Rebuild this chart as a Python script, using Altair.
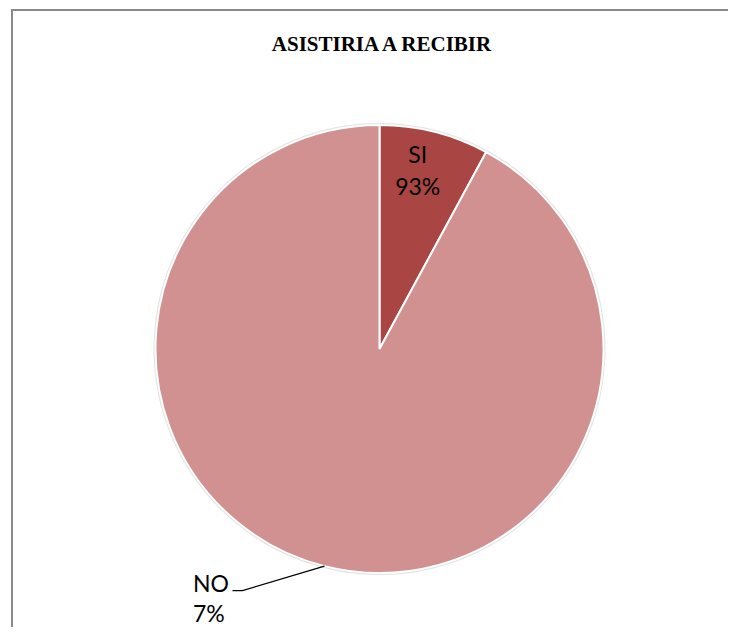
import math
import altair as alt
import pandas as pd

# ---- data ----
categories = ["SI", "NO"]
slice_values = [7.9, 92.1]          # slice sizes as drawn
label_texts = ["93%", "7%"]         # percentages printed on the chart
colors = ["#A94644", "#D19190"]
title_text = "ASISTIRIA A RECIBIR"

# ---- layout ----
W, H = 720, 619
CX, CY, R = 371.5, 341.0, 224.0

total = sum(slice_values)
mids = []
acc = 0.0
for v in slice_values:
    mids.append((acc + v / 2) / total * 2 * math.pi)
    acc += v

def polar(angle, rad):
    return CX + rad * math.sin(angle), CY - rad * math.cos(angle)

df = pd.DataFrame({
    "cat": categories,
    "value": slice_values,
    "order": list(range(len(categories))),
})

xs = alt.Scale(domain=[0, W], range=[0, W])
ys = alt.Scale(domain=[0, H], range=[0, H])

one = pd.DataFrame({"a": [0]})

shadow = alt.Chart(one).mark_arc(
    theta=0, theta2=2 * math.pi, outerRadius=R + 2, color="#e2e2e2"
).encode(x=alt.value(CX), y=alt.value(CY))

pie = alt.Chart(df).mark_arc(outerRadius=R, stroke="white", strokeWidth=2).encode(
    theta=alt.Theta("value:Q", stack=True),
    order=alt.Order("order:Q"),
    color=alt.Color("cat:N", scale=alt.Scale(domain=categories, range=colors), legend=None),
    x=alt.value(CX),
    y=alt.value(CY),
)

# inside label for first slice (y = centre of first line)
sx, sy = polar(mids[0], 180)
lab_in = pd.DataFrame({"x": [sx - 6], "y": [sy - 19], "t": [f"{categories[0]}\n{label_texts[0]}"]})
text_in = alt.Chart(lab_in).mark_text(
    font="Lato", fontSize=23, color="#000000", lineBreak="\n", lineHeight=32,
    align="center", baseline="middle",
).encode(
    x=alt.X("x:Q", scale=xs, axis=None),
    y=alt.Y("y:Q", scale=ys, axis=None),
    text="t:N",
)

# outside label with leader for second slice
px, py = polar(mids[1], R)
ex, ey = px - 82, py + 24.5
fx, fy = ex - 10, ey
leader_df = pd.DataFrame({"x": [px, ex, fx], "y": [py, ey, fy], "i": [0, 1, 2]})
leader = alt.Chart(leader_df).mark_line(color="#000000", strokeWidth=1.3).encode(
    x=alt.X("x:Q", scale=xs, axis=None),
    y=alt.Y("y:Q", scale=ys, axis=None),
    order="i:Q",
)
lab_out = pd.DataFrame({"x": [fx - 39.5], "y": [fy - 6], "t": [f"{categories[1]}\n{label_texts[1]}"]})
text_out = alt.Chart(lab_out).mark_text(
    font="Lato", fontSize=23, color="#000000", lineBreak="\n", lineHeight=30,
    align="left", baseline="middle",
).encode(
    x=alt.X("x:Q", scale=xs, axis=None),
    y=alt.Y("y:Q", scale=ys, axis=None),
    text="t:N",
)

title = alt.Chart(one).mark_text(
    text=title_text, font="Liberation Serif", fontSize=21, fontWeight="bold",
    color="#000000", align="center", baseline="alphabetic",
).encode(x=alt.value(373.5), y=alt.value(43))

border_left = alt.Chart(one).mark_rule(color="#8a8a8a", strokeWidth=2).encode(
    x=alt.value(4), y=alt.value(2), y2=alt.value(H)
)
border_top = alt.Chart(one).mark_rule(color="#8a8a8a", strokeWidth=2).encode(
    x=alt.value(3), x2=alt.value(W), y=alt.value(2)
)

chart = alt.layer(
    shadow, pie, text_in, leader, text_out, title, border_left, border_top
).properties(
    width=W, height=H, padding=0, autosize=alt.AutoSizeParams(type="none"),
    background="white",
).configure_view(strokeWidth=0)

chart.save("out.html", embed_options={"renderer": "svg", "actions": False})
